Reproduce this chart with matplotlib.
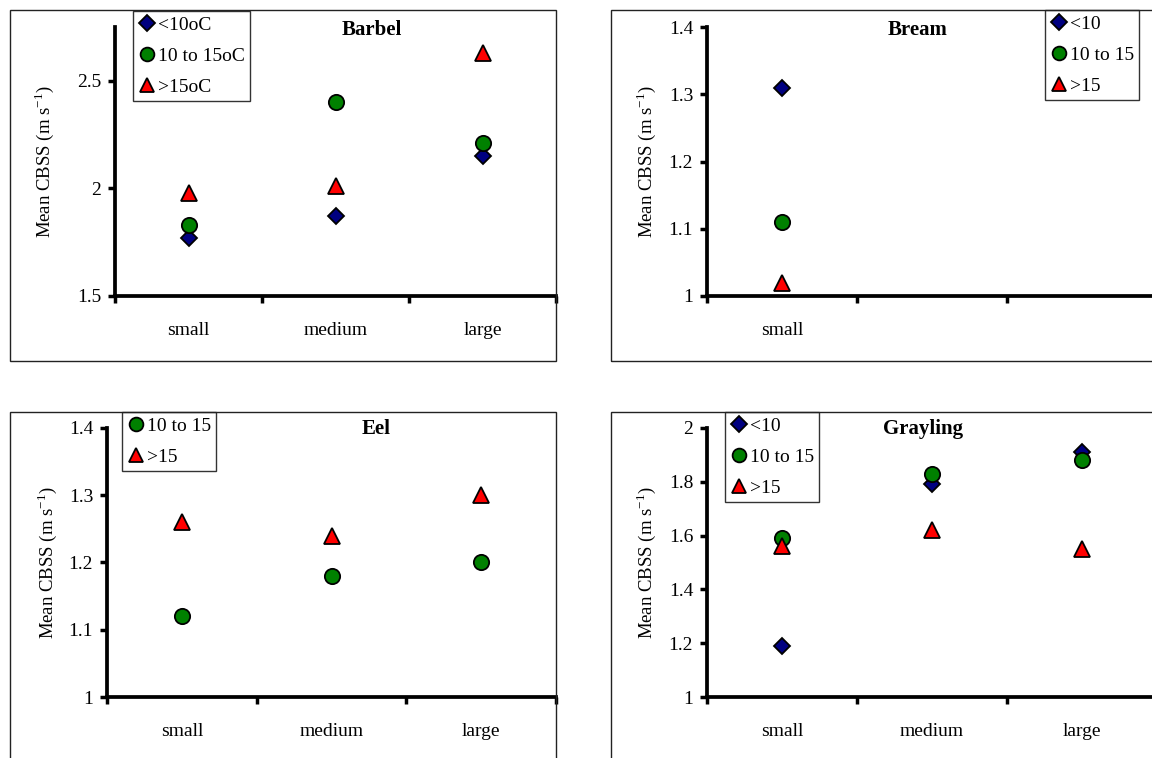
import numpy as np
import matplotlib
matplotlib.use('Agg')
import matplotlib.pyplot as plt
from matplotlib.patches import Rectangle
from matplotlib.ticker import FuncFormatter

plt.rcParams['font.family'] = ['Liberation Serif', 'DejaVu Serif']
plt.rcParams['mathtext.fontset'] = 'custom'
plt.rcParams['mathtext.rm'] = 'Liberation Serif'

# data
categories = ['small', 'medium', 'large']
bream_labels = ['small', '', '']

barbel_lt10 = [1.77, 1.87, 2.15]
barbel_10_15 = [1.83, 2.40, 2.21]
barbel_gt15 = [1.98, 2.01, 2.63]

bream_lt10 = [1.31]
bream_10_15 = [1.11]
bream_gt15 = [1.02]

eel_10_15 = [1.12, 1.18, 1.20]
eel_gt15 = [1.26, 1.24, 1.30]

grayling_lt10 = [1.19, 1.79, 1.91]
grayling_10_15 = [1.59, 1.83, 1.88]
grayling_gt15 = [1.56, 1.62, 1.55]

W, H = 1152, 758
fig = plt.figure(figsize=(W / 100, H / 100), dpi=100)

ylab = 'Mean CBSS (m s$^{\\mathregular{-1}}$)'

# marker styles for the three temperature classes
sty = {
    'lt': dict(marker='D', ms=8.5, mfc='#000080'),
    'mid': dict(marker='o', ms=11, mfc='#008000'),
    'hi': dict(marker='^', ms=11.5, mfc='#FF0000'),
}


def frame(l, t, r, b):
    fig.patches.append(Rectangle((l / W, 1 - b / H), (r - l) / W, (b - t) / H,
                                 transform=fig.transFigure, fill=False,
                                 edgecolor='#222222', lw=1.0))


def make_ax(l, t, r, b, ylim, yticks, xlabels, label_x):
    ax = fig.add_axes([l / W, 1 - b / H, (r - l) / W, (b - t) / H])
    ax.patch.set_alpha(0)
    ax.set_xlim(-0.5, 2.5)
    ax.set_ylim(*ylim)
    for s in ['top', 'right']:
        ax.spines[s].set_visible(False)
    for s in ['left', 'bottom']:
        ax.spines[s].set_linewidth(2.7)
    ax.set_xticks([-0.5, 0.5, 1.5, 2.5])
    ax.set_xticklabels([])
    ax.set_xticks([0, 1, 2], minor=True)
    ax.set_xticklabels(xlabels, minor=True, fontsize=14)
    ax.tick_params(axis='x', which='major', direction='out', length=5, width=2.5)
    ax.tick_params(axis='x', which='minor', length=0, pad=18.5)
    ax.set_yticks(yticks)
    ax.yaxis.set_major_formatter(FuncFormatter(lambda v, p: '{:g}'.format(round(v, 2))))
    ax.tick_params(axis='y', direction='out', length=5, width=2.5, pad=5, labelsize=14)
    ax.set_ylabel(ylab, fontsize=13.5, va='center')
    ax.yaxis.set_label_coords((label_x - l) / (r - l), 0.5)
    return ax


def series(ax, vals, key, label):
    x = np.arange(len(vals))
    ax.plot(x, vals, ls='none', mec='black', mew=1.3, label=label,
            clip_on=False, **sty[key])


def legend(ax, x, y):
    ax.legend(loc='upper left', bbox_to_anchor=(x / W, 1 - y / H),
              bbox_transform=fig.transFigure, borderaxespad=0,
              fancybox=False, edgecolor='#333333', framealpha=1,
              borderpad=0.28, handlelength=0.9, handletextpad=0.1,
              labelspacing=0.68, markerscale=0.9, fontsize=14)


# Barbel
frame(10, 10, 556, 361)
ax1 = make_ax(115, 27, 556, 296, (1.5, 2.75), [1.5, 2, 2.5], categories, 44)
series(ax1, barbel_lt10, 'lt', '<10oC')
series(ax1, barbel_10_15, 'mid', '10 to 15oC')
series(ax1, barbel_gt15, 'hi', '>15oC')
legend(ax1, 133, 11)
fig.text(372 / W, 1 - 30 / H, 'Barbel', ha='center', va='center',
         fontsize=15, fontweight='bold')

# Bream
frame(611, 10, 1165, 361)
ax2 = make_ax(707, 27, 1157, 296, (1, 1.4), [1, 1.1, 1.2, 1.3, 1.4], bream_labels, 646)
series(ax2, bream_lt10, 'lt', '<10')
series(ax2, bream_10_15, 'mid', '10 to 15')
series(ax2, bream_gt15, 'hi', '>15')
legend(ax2, 1045, 10)
fig.text(918 / W, 1 - 30 / H, 'Bream', ha='center', va='center',
         fontsize=15, fontweight='bold')

# Eel
frame(10, 412, 556, 775)
ax3 = make_ax(107, 428, 556, 697, (1, 1.4), [1, 1.1, 1.2, 1.3, 1.4], categories, 47)
series(ax3, eel_10_15, 'mid', '10 to 15')
series(ax3, eel_gt15, 'hi', '>15')
legend(ax3, 122, 412)
fig.text(376 / W, 1 - 429 / H, 'Eel', ha='center', va='center',
         fontsize=15, fontweight='bold')

# Grayling
frame(611, 412, 1165, 775)
ax4 = make_ax(707, 428, 1157, 697, (1, 2), [1, 1.2, 1.4, 1.6, 1.8, 2], categories, 646)
series(ax4, grayling_lt10, 'lt', '<10')
series(ax4, grayling_10_15, 'mid', '10 to 15')
series(ax4, grayling_gt15, 'hi', '>15')
legend(ax4, 725, 412)
fig.text(923 / W, 1 - 429 / H, 'Grayling', ha='center', va='center',
         fontsize=15, fontweight='bold')

fig.savefig('out.png', dpi=100)
